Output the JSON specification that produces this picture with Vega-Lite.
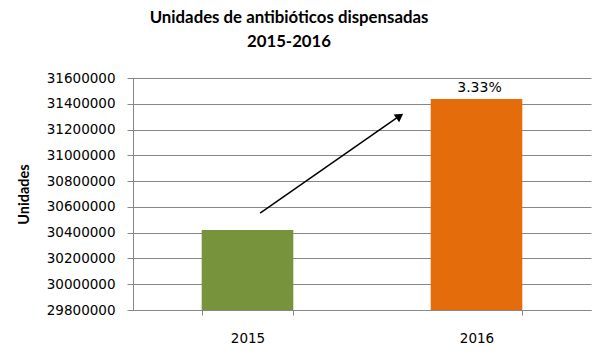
{
  "$schema": "https://vega.github.io/schema/vega-lite/v6.json",
  "width": 458,
  "height": 232,
  "autosize": {"type": "none"},
  "padding": {"left": 133, "top": 78, "right": 20, "bottom": 46},
  "background": "white",
  "title": {
    "text": ["Unidades de antibióticos dispensadas", "2015-2016"],
    "font": "Lato",
    "fontSize": 16.8,
    "fontWeight": "bold",
    "color": "#000000",
    "lineHeight": 24,
    "dx": -73,
    "offset": 20
  },
  "config": {
    "view": {"stroke": null},
    "axis": {"labelFont": "DejaVu Sans", "labelFontSize": 13.5, "labelColor": "#000000", "titleFont": "Lato", "titleColor": "#000000"}
  },
  "datasets": {
    "bars": [
      {"year": "2015", "value": 30420000},
      {"year": "2016", "value": 31437000, "label": "3.33%"}
    ],
    "arrow": [
      {"pos": 0.555, "value": 30552500},
      {"pos": 1.158, "value": 31298000}
    ],
    "head": [
      {"pos": 1.165, "value": 31305000}
    ]
  },
  "encoding": {
    "y": {
      "field": "value", "type": "quantitative",
      "scale": {"domain": [29800000, 31600000], "zero": false, "nice": false},
      "axis": {
        "title": "Unidades", "titleFontSize": 14.5, "titleFontWeight": "bold",
        "titleX": -109, "titleY": 116, "titleAngle": -90, "titleAlign": "center", "titleBaseline": "middle",
        "values": [29800000, 30000000, 30200000, 30400000, 30600000, 30800000, 31000000, 31200000, 31400000, 31600000],
        "labelOverlap": false,
        "format": "d", "grid": true, "gridColor": "#878787", "domainColor": "#878787", "tickColor": "#878787", "tickSize": 6, "labelPadding": 12
      }
    }
  },
  "layer": [
    {
      "data": {"name": "bars"},
      "encoding": {
        "x": {
          "field": "year", "type": "nominal",
          "scale": {"paddingInner": 0.6, "paddingOuter": 0.3},
          "axis": {"title": null, "labelAngle": 0, "domainColor": "#878787", "tickColor": "#878787", "tickBand": "extent", "tickSize": 5, "labelPadding": 16, "grid": false}
        }
      },
      "layer": [
        {
          "mark": {"type": "bar"},
          "encoding": {
            "y2": {"datum": 29800000},
            "color": {
              "field": "year", "type": "nominal",
              "scale": {"domain": ["2015", "2016"], "range": ["#77933C", "#E46C0A"]},
              "legend": null
            }
          }
        },
        {
          "transform": [{"filter": "datum.label != null"}],
          "mark": {"type": "text", "font": "DejaVu Sans", "fontSize": 14, "baseline": "bottom", "dy": -4, "dx": 3, "color": "#000000"},
          "encoding": {
            "text": {"field": "label"}
          }
        }
      ]
    },
    {
      "layer": [
        {
          "data": {"name": "arrow"},
          "mark": {"type": "line", "color": "#000000", "strokeWidth": 1.5},
          "encoding": {
            "x": {"field": "pos", "type": "quantitative", "scale": {"domain": [0, 2], "nice": false, "zero": false}, "axis": null}
          }
        },
        {
          "data": {"name": "head"},
          "mark": {"type": "point", "shape": "triangle-right", "filled": true, "color": "#000000", "size": 90, "angle": 325, "opacity": 1},
          "encoding": {
            "x": {"field": "pos", "type": "quantitative"}
          }
        }
      ]
    }
  ],
  "resolve": {"scale": {"x": "independent"}}
}
